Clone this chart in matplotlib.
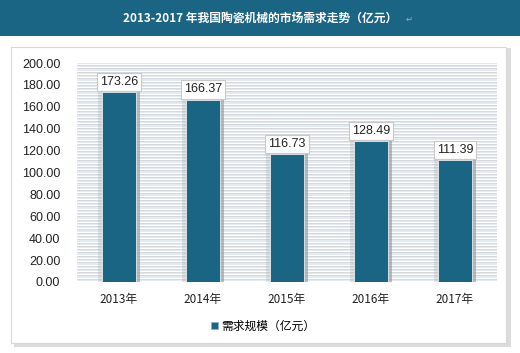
import matplotlib.pyplot as plt
from matplotlib.patches import Rectangle, Patch

plt.rcParams['font.family'] = ['Noto Sans CJK SC', 'DejaVu Sans']

years = ['2013年', '2014年', '2015年', '2016年', '2017年']
demand = [173.26, 166.37, 116.73, 128.49, 111.39]
yticks = [0, 20, 40, 60, 80, 100, 120, 140, 160, 180, 200]

bar_color = '#1b6584'

fig = plt.figure(figsize=(5.2, 3.53), dpi=100)

# title bar
fig.patches.append(Rectangle((0, 1 - 36 / 353), 1, 36 / 353, transform=fig.transFigure,
                             facecolor=bar_color, edgecolor='none', zorder=-5))
fig.text(0.5, 1 - 18 / 353, '2013-2017 年我国陶瓷机械的市场需求走势（亿元）', color='white',
         ha='center', va='center', fontsize=8.5, fontweight='bold')
fig.text(0.78, 1 - 19 / 353, '↵', color='#aaaaaa', ha='left', va='center', fontsize=6,
         family=['DejaVu Sans'])

# card with shadow
fig.patches.append(Rectangle((14 / 520, 6 / 353), 497 / 520, 299 / 353, transform=fig.transFigure,
                             facecolor='#dcdcdc', edgecolor='none', zorder=-5))
fig.patches.append(Rectangle((11 / 520, 10 / 353), 495 / 520, 296 / 353, transform=fig.transFigure,
                             facecolor='white', edgecolor='#d8d8d8', lw=0.8, zorder=-4))

ax = fig.add_axes([77 / 520, 1 - 282 / 353, 420 / 520, 219 / 353])
ax.set_facecolor('white')
for v in range(0, 201, 3):
    ax.axhspan(v + 0.9, v + 2.1, color='#e3eaf1', lw=0, zorder=0)
    ax.axhline(v, color='#c3c8cd', lw=0.5, zorder=0)

x = range(len(years))
# soft shadow around bars
ax.bar(x, demand, width=0.5, color='#a8acb0', alpha=0.3, zorder=1)
ax.bar([i + 0.03 for i in x], demand, width=0.44, color='#8a8e92', alpha=0.45, zorder=1)
ax.bar(x, demand, width=0.4, color=bar_color, edgecolor='#e8eef2', lw=0.6, zorder=2)

for i, v in enumerate(demand):
    ax.text(i, v + 4, f'{v:.2f}', ha='center', va='bottom', fontsize=9, color='#222222',
            family=['Liberation Sans', 'DejaVu Sans'],
            bbox=dict(boxstyle='square,pad=0.25', facecolor='white', edgecolor='#c8c8c8', lw=0.8),
            zorder=3)

ax.set_ylim(0, 200)
ax.set_xlim(-0.5, 4.5)
ax.set_yticks(yticks)
ax.set_yticklabels([f'{t:.2f}' for t in yticks], fontsize=9, color='#222222',
                   family=['Liberation Sans', 'DejaVu Sans'])
ax.set_xticks(list(x))
ax.set_xticklabels(years, fontsize=8.5, color='#222222')
ax.tick_params(length=0, pad=8)
ax.tick_params(axis='y', pad=12)
for s in ax.spines.values():
    s.set_visible(False)

handle = Patch(facecolor=bar_color, edgecolor='#8fb3c6', lw=0.6)
fig.legend([handle], ['需求规模（亿元）'], loc='center left',
           bbox_to_anchor=(200 / 520, 1 - 326 / 353), frameon=False, fontsize=8.5,
           handlelength=0.6, handleheight=0.6, handletextpad=0.3)

fig.savefig('out.png', dpi=100)
